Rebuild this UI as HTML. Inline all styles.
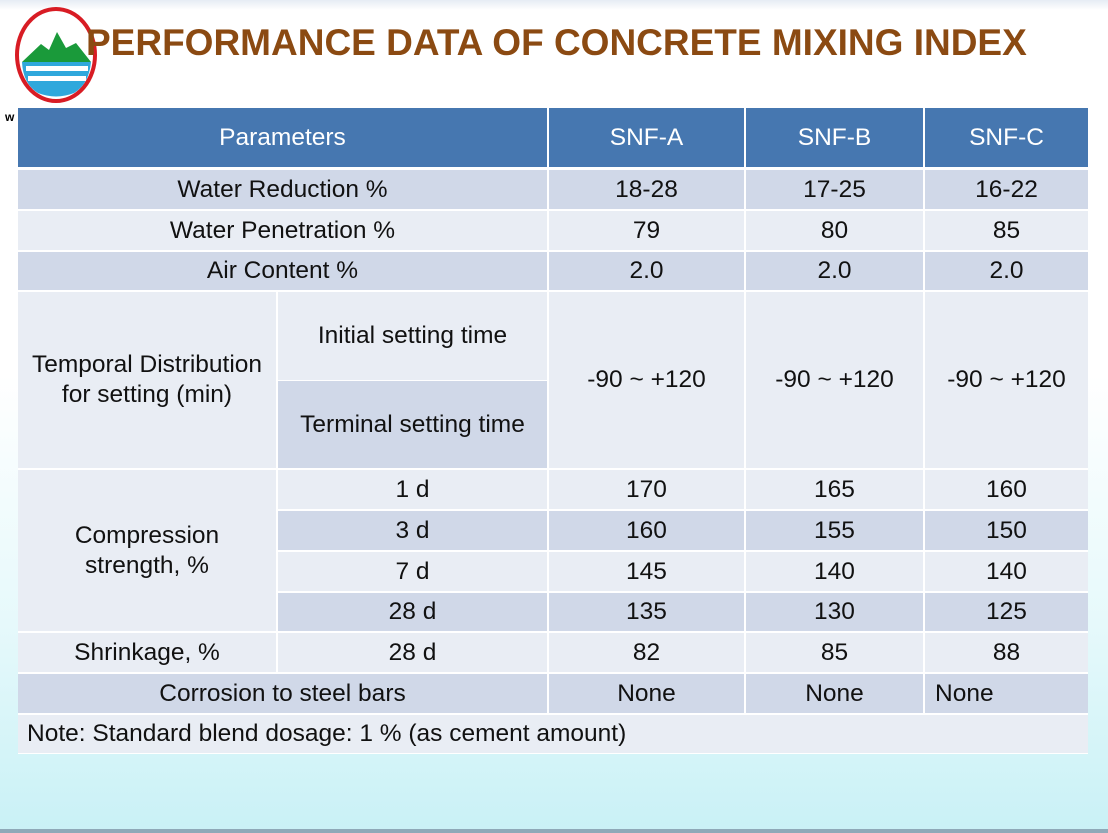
<!DOCTYPE html><html><head><style>
body{margin:0;width:1108px;height:833px;position:relative;overflow:hidden;font-family:"Liberation Sans",Arial,sans-serif;background:linear-gradient(#fff 0%,#fff 45%,#e6f9fb 75%,#c9f1f6 100%);}
.c{position:absolute;display:flex;align-items:center;justify-content:center;text-align:center;font-size:24.5px;color:#111;line-height:30px;box-sizing:border-box;white-space:nowrap}
.h{background:#4677b0;color:#fff;font-size:24.5px}
.d{background:#d0d8e8}.l{background:#e9edf4}
</style></head><body>
<div style="position:absolute;left:0;top:0;width:1108px;height:10px;background:linear-gradient(#e6ecf4,#fff)"></div>
<svg style="position:absolute;left:0;top:0" width="110" height="110" viewBox="0 0 110 110">
<ellipse cx="56" cy="55" rx="39" ry="46" fill="#fff" stroke="#d81c24" stroke-width="4"/>
<polygon points="22,62 41,44 49,50 57,32 66,48 76,43 91,62" fill="#1a9a3a"/>
<path d="M22,62 H91 Q89,84 74,93 Q56,100 38,93 Q23,84 22,62Z" fill="#2fa8dc"/>
<rect x="26" y="66" width="62" height="5" fill="#fff"/><rect x="28" y="76" width="58" height="5" fill="#fff"/>
</svg>
<div style="position:absolute;left:86px;top:22px;font-size:37px;font-weight:bold;color:#8b4a12;white-space:nowrap">PERFORMANCE DATA OF CONCRETE MIXING INDEX</div>
<div style="position:absolute;left:5px;top:110px;font-size:12px;font-weight:bold">w</div>
<div style="position:absolute;left:18px;top:108px;width:1070px;height:646px;background:#fff"></div>
<div class="c h" style="left:18px;top:108px;width:529px;height:59px">Parameters</div>
<div class="c h" style="left:549px;top:108px;width:195px;height:59px">SNF-A</div>
<div class="c h" style="left:746px;top:108px;width:177px;height:59px">SNF-B</div>
<div class="c h" style="left:925px;top:108px;width:163px;height:59px">SNF-C</div>

<div class="c d" style="left:18px;top:170px;width:529px;height:39px">Water Reduction %</div>
<div class="c d" style="left:549px;top:170px;width:195px;height:39px">18-28</div>
<div class="c d" style="left:746px;top:170px;width:177px;height:39px">17-25</div>
<div class="c d" style="left:925px;top:170px;width:163px;height:39px">16-22</div>

<div class="c l" style="left:18px;top:211px;width:529px;height:39px">Water Penetration %</div>
<div class="c l" style="left:549px;top:211px;width:195px;height:39px">79</div>
<div class="c l" style="left:746px;top:211px;width:177px;height:39px">80</div>
<div class="c l" style="left:925px;top:211px;width:163px;height:39px">85</div>

<div class="c d" style="left:18px;top:252px;width:529px;height:38px">Air Content %</div>
<div class="c d" style="left:549px;top:252px;width:195px;height:38px">2.0</div>
<div class="c d" style="left:746px;top:252px;width:177px;height:38px">2.0</div>
<div class="c d" style="left:925px;top:252px;width:163px;height:38px">2.0</div>

<div class="c l" style="left:18px;top:292px;width:258px;height:176px">Temporal Distribution<br>for setting (min)</div>
<div class="c l" style="left:278px;top:292px;width:269px;height:88px">Initial setting time</div>
<div class="c d" style="left:278px;top:381px;width:269px;height:87px">Terminal setting time</div>
<div class="c l" style="left:549px;top:292px;width:195px;height:176px">-90 ~ +120</div>
<div class="c l" style="left:746px;top:292px;width:177px;height:176px">-90 ~ +120</div>
<div class="c l" style="left:925px;top:292px;width:163px;height:176px">-90 ~ +120</div>

<div class="c l" style="left:18px;top:470px;width:258px;height:161px">Compression<br>strength, %</div>
<div class="c l" style="left:278px;top:470px;width:269px;height:39px">1 d</div>
<div class="c l" style="left:549px;top:470px;width:195px;height:39px">170</div>
<div class="c l" style="left:746px;top:470px;width:177px;height:39px">165</div>
<div class="c l" style="left:925px;top:470px;width:163px;height:39px">160</div>
<div class="c d" style="left:278px;top:511px;width:269px;height:39px">3 d</div>
<div class="c d" style="left:549px;top:511px;width:195px;height:39px">160</div>
<div class="c d" style="left:746px;top:511px;width:177px;height:39px">155</div>
<div class="c d" style="left:925px;top:511px;width:163px;height:39px">150</div>
<div class="c l" style="left:278px;top:552px;width:269px;height:39px">7 d</div>
<div class="c l" style="left:549px;top:552px;width:195px;height:39px">145</div>
<div class="c l" style="left:746px;top:552px;width:177px;height:39px">140</div>
<div class="c l" style="left:925px;top:552px;width:163px;height:39px">140</div>
<div class="c d" style="left:278px;top:593px;width:269px;height:38px">28 d</div>
<div class="c d" style="left:549px;top:593px;width:195px;height:38px">135</div>
<div class="c d" style="left:746px;top:593px;width:177px;height:38px">130</div>
<div class="c d" style="left:925px;top:593px;width:163px;height:38px">125</div>

<div class="c l" style="left:18px;top:633px;width:258px;height:39px">Shrinkage, %</div>
<div class="c l" style="left:278px;top:633px;width:269px;height:39px">28 d</div>
<div class="c l" style="left:549px;top:633px;width:195px;height:39px">82</div>
<div class="c l" style="left:746px;top:633px;width:177px;height:39px">85</div>
<div class="c l" style="left:925px;top:633px;width:163px;height:39px">88</div>

<div class="c d" style="left:18px;top:674px;width:529px;height:39px">Corrosion to steel bars</div>
<div class="c d" style="left:549px;top:674px;width:195px;height:39px">None</div>
<div class="c d" style="left:746px;top:674px;width:177px;height:39px">None</div>
<div class="c d" style="left:925px;top:674px;width:163px;height:39px;justify-content:flex-start;padding-left:10px">None</div>

<div class="c l" style="left:18px;top:715px;width:1070px;height:38px;justify-content:flex-start;padding-left:9px">Note: Standard blend dosage: 1 % (as cement amount)</div>
<div style="position:absolute;left:0;top:829px;width:1108px;height:4px;background:#8fa9b8"></div>
</body></html>
